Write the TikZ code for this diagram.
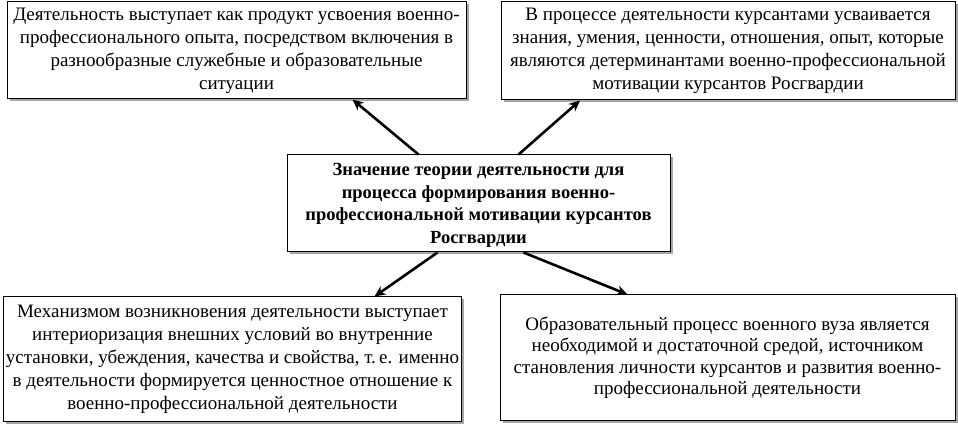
\documentclass[tikz,border=0pt]{standalone}
\usepackage{fontspec}
\setmainfont{Liberation Serif}
\usetikzlibrary{shadows,arrows.meta}
\begin{document}
\begin{tikzpicture}[x=1pt,y=1pt,
  box/.style={draw=black, line width=1pt, fill=white, align=center, inner sep=2pt,
    font=\fontsize{19}{23}\selectfont,
    drop shadow={shadow xshift=2.5pt, shadow yshift=-2.5pt, fill=gray!70, opacity=1}},
  arr/.style={line width=2.6pt, -{Stealth[length=11pt,width=10pt]}}]
\useasboundingbox (0,0) rectangle (958,423);
\node[box, minimum width=459pt, minimum height=97pt] (b1) at (236.5,372.5)
 {Деятельность выступает как продукт усвоения военно-\\
  профессионального опыта, посредством включения в\\
  разнообразные служебные и образовательные\\
  ситуации};
\node[box, minimum width=454pt, minimum height=98pt] (b2) at (728,372)
 {В процессе деятельности курсантами усваивается\\
  знания, умения, ценности, отношения, опыт, которые\\
  являются детерминантами военно-профессиональной\\
  мотивации курсантов Росгвардии};
\node[box, minimum width=383pt, minimum height=97pt, font=\fontsize{18.5}{22.5}\selectfont\bfseries, text depth=0pt] (c) at (478.5,219.5)
 {Значение теории деятельности для\\
  процесса формирования военно-\\
  профессиональной мотивации курсантов\\
  Росгвардии};
\node[box, minimum width=451pt, minimum height=124pt] (bl) at (232.5,64)
 {Механизмом возникновения деятельности выступает\\
  интериоризация внешних условий во внутренние\\
  установки, убеждения, качества и свойства, т.\,е. именно\\
  в деятельности формируется ценностное отношение к\\
  военно-профессиональной деятельности};
\node[box, minimum width=455pt, minimum height=125pt, font=\fontsize{19}{21.5}\selectfont] (br) at (727.5,65.5)
 {Образовательный процесс военного вуза является\\
  необходимой и достаточной средой, источником\\
  становления личности курсантов и развития военно-\\
  профессиональной деятельности};
\draw[arr] ([xshift=-60pt]c.north) -- ([xshift=116pt]b1.south);
\draw[arr] ([xshift=40pt]c.north) -- ([xshift=-148pt]b2.south);
\draw[arr] ([xshift=-41pt]c.south) -- ([xshift=142pt]bl.north);
\draw[arr] ([xshift=45pt]c.south) -- ([xshift=-100pt]br.north);
\end{tikzpicture}
\end{document}
